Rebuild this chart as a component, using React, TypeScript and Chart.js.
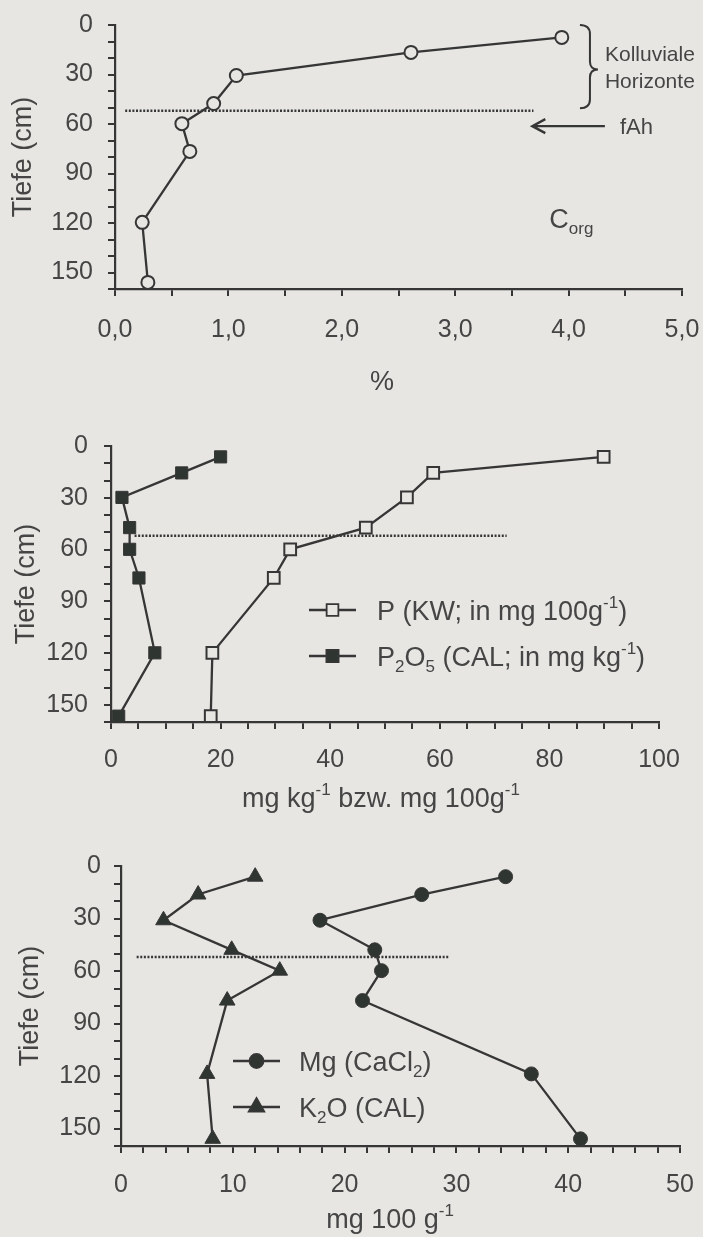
import React, { useEffect, useRef } from 'react';
import { Chart, registerables } from 'chart.js';

Chart.register(...registerables);

// ---------- data ----------
// Panel 1: organic carbon
const CORG_DEPTH = [7.5, 16.6, 30.6, 47.6, 59.8, 76.6, 119.6, 156];
const CORG_PCT = [3.94, 2.61, 1.07, 0.87, 0.59, 0.66, 0.24, 0.29];
const CORG_X_LABELS = ['0,0', '1,0', '2,0', '3,0', '4,0', '5,0'];
const CORG_FAH_X = [0.09, 3.69];

// Panel 2: phosphorus
const P_DEPTH = [6.3, 15.6, 29.8, 47.3, 59.9, 76.5, 119.9, 156.6];
const P_KW = [89.9, 58.8, 54.0, 46.5, 32.7, 29.7, 18.5, 18.2];
const P2O5_CAL = [20.0, 12.9, 2.0, 3.4, 3.4, 5.1, 8.0, 1.4];
const P_X_LABELS = ['0', '20', '40', '60', '80', '100'];
const P_FAH_X = [4.3, 72.2];

// Panel 3: magnesium / potassium
const MGK_DEPTH = [6.1, 16.3, 31.0, 47.9, 59.8, 76.9, 118.8, 155.9];
const MG_CACL2 = [34.4, 26.9, 17.8, 22.7, 23.3, 21.6, 36.7, 41.1];
const K2O_CAL = [12.0, 6.9, 3.8, 9.9, 14.2, 9.5, 7.7, 8.2];
const MG_X_LABELS = ['0', '10', '20', '30', '40', '50'];
const MG_FAH_X = [1.4, 29.3];

const DEPTH_LABELS = ['0', '30', '60', '90', '120', '150'];
const FAH_DEPTH = 52;

// ---------- style ----------
const FONT = '"Liberation Sans", Arial, Helvetica, sans-serif';
const BG = '#e7e6e3';
const INK = '#363636';
const TEXT = '#454545';
const MARK = '#2f3531';
const TICK_SIZE = 25;
const LABEL_SIZE = 27;

type Seg = [string, ('sup' | 'sub')?];

function drawRich(ctx: CanvasRenderingContext2D, segs: Seg[], x: number, yMid: number, size: number, align: 'left' | 'center') {
  const small = Math.round(size * 0.62);
  let w = 0;
  for (const [t, m] of segs) {
    ctx.font = `${m ? small : size}px ${FONT}`;
    w += ctx.measureText(t).width;
  }
  let cx = align === 'center' ? x - w / 2 : x;
  const base = yMid + size * 0.36;
  ctx.textBaseline = 'alphabetic';
  ctx.textAlign = 'left';
  ctx.fillStyle = TEXT;
  for (const [t, m] of segs) {
    ctx.font = `${m ? small : size}px ${FONT}`;
    const dy = m === 'sup' ? -size * 0.45 : m === 'sub' ? size * 0.22 : 0;
    ctx.fillText(t, cx, base + dy);
    cx += ctx.measureText(t).width;
  }
}

function drawMarker(ctx: CanvasRenderingContext2D, style: string, x: number, y: number, r: number, fill: string) {
  ctx.save();
  ctx.beginPath();
  if (style === 'circle') {
    ctx.arc(x, y, r, 0, Math.PI * 2);
  } else if (style === 'rect') {
    const s = r * Math.SQRT1_2;
    ctx.rect(x - s, y - s, 2 * s, 2 * s);
  } else {
    for (let k = 0; k < 3; k++) {
      const a = (k * 2 * Math.PI) / 3;
      const px = x + Math.sin(a) * r;
      const py = y - Math.cos(a) * r;
      if (k === 0) ctx.moveTo(px, py); else ctx.lineTo(px, py);
    }
    ctx.closePath();
  }
  ctx.fillStyle = fill;
  ctx.fill();
  ctx.lineWidth = 1.8;
  ctx.strokeStyle = INK;
  ctx.stroke();
  ctx.restore();
}

function legendRow(ctx: CanvasRenderingContext2D, x1: number, x2: number, y: number, style: string, r: number, fill: string, segs: Seg[], tx: number) {
  ctx.save();
  ctx.strokeStyle = INK;
  ctx.lineWidth = 2.3;
  ctx.beginPath();
  ctx.moveTo(x1, y);
  ctx.lineTo(x2, y);
  ctx.stroke();
  ctx.restore();
  drawMarker(ctx, style, (x1 + x2) / 2, y, r, fill);
  drawRich(ctx, segs, tx, y, LABEL_SIZE, 'left');
}

function series(xs: number[], ys: number[]) {
  return xs.map((x, i) => ({ x, y: ys[i] }));
}

function fahLine(xr: number[]) {
  return {
    data: [{ x: xr[0], y: FAH_DEPTH }, { x: xr[1], y: FAH_DEPTH }],
    showLine: true,
    borderColor: INK,
    borderWidth: 2.4,
    borderDash: [2, 1.6],
    pointRadius: 0,
  };
}

interface PanelCfg {
  top: number;
  height: number;
  left: number;
  right: number;
  areaTop: number;
  areaBottom: number;
  xMax: number;
  xStep: number;
  xMajor: number;
  xLabels: string[];
  xPad: number;
  yPad: number;
  yTitlePad: number;
  datasets: any[];
  annotate: (chart: any) => void;
}

const PANELS: PanelCfg[] = [
  {
    top: 0, height: 400, left: 115, right: 682, areaTop: 25, areaBottom: 289,
    xMax: 5, xStep: 0.5, xMajor: 1, xLabels: CORG_X_LABELS, xPad: 19, yPad: 15, yTitlePad: 7,
    datasets: [
      {
        data: series(CORG_PCT, CORG_DEPTH), showLine: true, borderColor: INK, borderWidth: 2.3,
        pointStyle: 'circle', pointRadius: 6.5, pointBackgroundColor: BG, pointBorderColor: INK, pointBorderWidth: 2,
      },
      fahLine(CORG_FAH_X),
    ],
    annotate: (chart) => {
      const ctx: CanvasRenderingContext2D = chart.ctx;
      const xs = chart.scales.x;
      const ys = chart.scales.y;
      // brace
      const x0 = xs.getPixelForValue(4.1);
      const x1 = x0 + 10;
      const x2 = x0 + 18;
      const yT = ys.getPixelForValue(0);
      const yB = ys.getPixelForValue(50.5);
      const yM = ys.getPixelForValue(27);
      ctx.save();
      ctx.strokeStyle = INK;
      ctx.lineWidth = 2;
      ctx.beginPath();
      ctx.moveTo(x0, yT);
      ctx.quadraticCurveTo(x1, yT, x1, yT + 9);
      ctx.lineTo(x1, yM - 8);
      ctx.quadraticCurveTo(x1, yM, x2, yM);
      ctx.quadraticCurveTo(x1, yM, x1, yM + 8);
      ctx.lineTo(x1, yB - 9);
      ctx.quadraticCurveTo(x1, yB, x0, yB);
      ctx.stroke();
      // arrow
      const ay = ys.getPixelForValue(61.3);
      const ax1 = xs.getPixelForValue(3.68);
      const ax2 = xs.getPixelForValue(4.32);
      ctx.lineWidth = 2.4;
      ctx.beginPath();
      ctx.moveTo(ax2, ay);
      ctx.lineTo(ax1, ay);
      ctx.moveTo(ax1 + 13, ay - 7);
      ctx.lineTo(ax1, ay);
      ctx.lineTo(ax1 + 13, ay + 7);
      ctx.stroke();
      ctx.restore();
      drawRich(ctx, [['Kolluviale']], x2 + 7, 53, 21, 'left');
      drawRich(ctx, [['Horizonte']], x2 + 7, 80, 21, 'left');
      drawRich(ctx, [['fAh']], ax2 + 15, ay, 22, 'left');
      drawRich(ctx, [['C'], ['org', 'sub']], xs.getPixelForValue(3.83), ys.getPixelForValue(117), LABEL_SIZE, 'left');
      drawRich(ctx, [['%']], 382, 380, LABEL_SIZE, 'center');
    },
  },
  {
    top: 400, height: 420, left: 111, right: 659, areaTop: 46, areaBottom: 322,
    xMax: 100, xStep: 5, xMajor: 20, xLabels: P_X_LABELS, xPad: 16, yPad: 16, yTitlePad: 10,
    datasets: [
      {
        data: series(P_KW, P_DEPTH), showLine: true, borderColor: INK, borderWidth: 2.3,
        pointStyle: 'rect', pointRadius: 8.3, pointBackgroundColor: BG, pointBorderColor: INK, pointBorderWidth: 2,
      },
      {
        data: series(P2O5_CAL, P_DEPTH), showLine: true, borderColor: INK, borderWidth: 2.3,
        pointStyle: 'rect', pointRadius: 8.6, pointBackgroundColor: MARK, pointBorderColor: INK, pointBorderWidth: 1,
      },
      fahLine(P_FAH_X),
    ],
    annotate: (chart) => {
      const ctx: CanvasRenderingContext2D = chart.ctx;
      legendRow(ctx, 309, 356, 210, 'rect', 8.3, BG, [['P (KW; in mg 100g'], ['-1', 'sup'], [')']], 377);
      legendRow(ctx, 309, 356, 256, 'rect', 8.6, MARK, [['P'], ['2', 'sub'], ['O'], ['5', 'sub'], [' (CAL; in mg kg'], ['-1', 'sup'], [')']], 377);
      drawRich(ctx, [['mg kg'], ['-1', 'sup'], [' bzw. mg 100g'], ['-1', 'sup']], 381, 397, LABEL_SIZE, 'center');
    },
  },
  {
    top: 820, height: 417, left: 121, right: 680, areaTop: 46, areaBottom: 326,
    xMax: 50, xStep: 2, xMajor: 10, xLabels: MG_X_LABELS, xPad: 17, yPad: 13, yTitlePad: 14,
    datasets: [
      {
        data: series(MG_CACL2, MGK_DEPTH), showLine: true, borderColor: INK, borderWidth: 2.3,
        pointStyle: 'circle', pointRadius: 7, pointBackgroundColor: MARK, pointBorderColor: INK, pointBorderWidth: 1,
      },
      {
        data: series(K2O_CAL, MGK_DEPTH), showLine: true, borderColor: INK, borderWidth: 2.3,
        pointStyle: 'triangle', pointRadius: 9, pointBackgroundColor: MARK, pointBorderColor: INK, pointBorderWidth: 1,
      },
      fahLine(MG_FAH_X),
    ],
    annotate: (chart) => {
      const ctx: CanvasRenderingContext2D = chart.ctx;
      legendRow(ctx, 233, 280, 241, 'circle', 7, MARK, [['Mg (CaCl'], ['2', 'sub'], [')']], 299);
      legendRow(ctx, 233, 280, 287, 'triangle', 9, MARK, [['K'], ['2', 'sub'], ['O (CAL)']], 299);
      drawRich(ctx, [['mg 100 g'], ['-1', 'sup']], 390, 398, LABEL_SIZE, 'center');
    },
  },
];

function buildChart(canvas: HTMLCanvasElement, cfg: PanelCfg) {
  const W = 703;
  const axisGrid = {
    display: true,
    drawOnChartArea: false,
    drawTicks: true,
    tickLength: 7,
    color: INK,
    lineWidth: 2,
  };
  const axisBorder = { display: true, color: INK, width: 2.2 };
  return new Chart(canvas, {
    type: 'scatter',
    data: { datasets: cfg.datasets },
    options: {
      animation: false,
      responsive: false,
      maintainAspectRatio: false,
      clip: false as any,
      layout: { padding: { left: 0, top: cfg.areaTop, right: W - cfg.right, bottom: 0 } },
      elements: { line: { tension: 0 } },
      plugins: { legend: { display: false }, tooltip: { enabled: false } },
      scales: {
        x: {
          type: 'linear',
          position: 'bottom',
          min: 0,
          max: cfg.xMax,
          afterBuildTicks: (s: any) => {
            const t = [];
            const n = Math.round(cfg.xMax / cfg.xStep);
            for (let i = 0; i <= n; i++) t.push({ value: i * cfg.xStep });
            s.ticks = t;
          },
          afterFit: (s: any) => {
            s.height = cfg.height - cfg.areaBottom;
            s.paddingLeft = 0;
            s.paddingRight = 0;
          },
          ticks: {
            autoSkip: false,
            maxRotation: 0,
            padding: cfg.xPad,
            color: TEXT,
            font: { family: FONT, size: TICK_SIZE },
            callback: (v: any) => {
              const q = Number(v) / cfg.xMajor;
              const r = Math.round(q);
              return Math.abs(q - r) < 1e-6 ? cfg.xLabels[r] : '';
            },
          },
          grid: axisGrid,
          border: axisBorder,
        },
        y: {
          type: 'linear',
          position: 'left',
          reverse: true,
          min: 0,
          max: 160,
          afterBuildTicks: (s: any) => {
            const t = [];
            for (let v = 0; v <= 160; v += 10) t.push({ value: v });
            s.ticks = t;
          },
          afterFit: (s: any) => {
            s.width = cfg.left;
            s.paddingTop = 0;
            s.paddingBottom = 0;
          },
          ticks: {
            autoSkip: false,
            padding: cfg.yPad,
            color: TEXT,
            font: { family: FONT, size: TICK_SIZE },
            callback: (v: any) => {
              const n = Number(v);
              return n % 30 === 0 && n <= 150 ? DEPTH_LABELS[n / 30] : '';
            },
          },
          title: {
            display: true,
            text: 'Tiefe (cm)',
            color: TEXT,
            font: { family: FONT, size: LABEL_SIZE },
            padding: { top: cfg.yTitlePad, bottom: 0 },
          },
          grid: axisGrid,
          border: axisBorder,
        },
      },
    } as any,
    plugins: [
      {
        id: 'annot',
        afterDraw: (chart: any) => {
          chart.ctx.save();
          cfg.annotate(chart);
          chart.ctx.restore();
        },
      },
    ],
  });
}

export default function App() {
  const r0 = useRef<HTMLCanvasElement>(null);
  const r1 = useRef<HTMLCanvasElement>(null);
  const r2 = useRef<HTMLCanvasElement>(null);
  const refs = [r0, r1, r2];

  useEffect(() => {
    const charts = PANELS.map((cfg, i) => buildChart(refs[i].current as HTMLCanvasElement, cfg));
    return () => charts.forEach((c) => c.destroy());
  }, []);

  return (
    <div style={{ position: 'absolute', left: 0, top: 0, width: 703, height: 1237, background: BG, overflow: 'hidden' }}>
      {PANELS.map((cfg, i) => (
        <canvas
          key={i}
          ref={refs[i]}
          width={703}
          height={cfg.height}
          style={{ position: 'absolute', left: 0, top: cfg.top, width: 703, height: cfg.height }}
        />
      ))}
    </div>
  );
}
